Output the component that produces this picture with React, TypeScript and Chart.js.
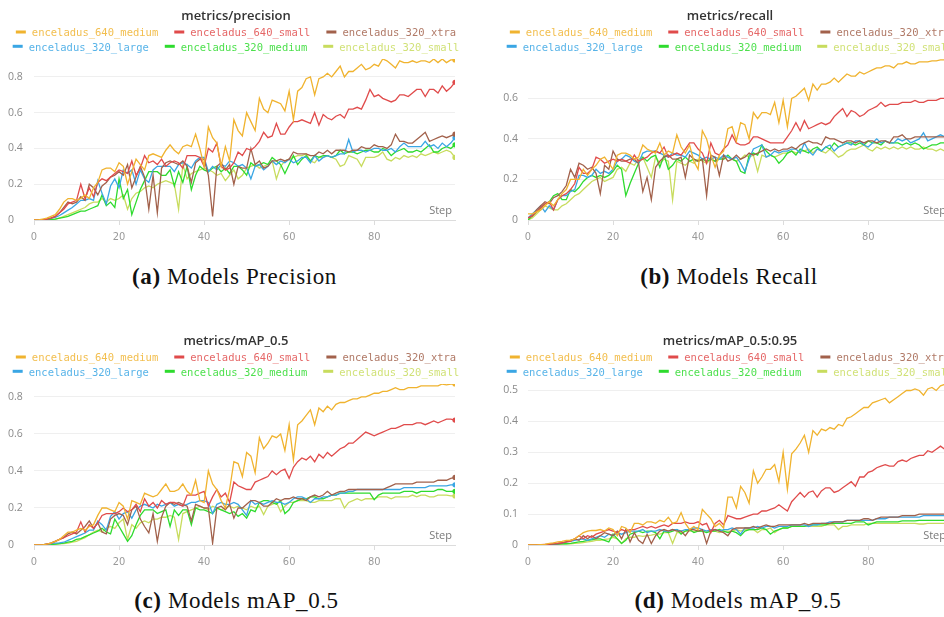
import React, { useEffect, useRef } from "react";
import { Chart, registerables } from "chart.js";

Chart.register(...registerables);

// Training step (epoch) index shared by every curve
const STEPS = [...Array(100).keys()];

const RUN_NAMES = [
  "enceladus_640_medium",
  "enceladus_640_small",
  "enceladus_320_xtra",
  "enceladus_320_large",
  "enceladus_320_medium",
  "enceladus_320_small",
];
const RUN_COLORS = ["#f0b32f", "#e04b4b", "#a2614b", "#3aa6e4", "#2edb2e", "#c8dc5e"];

// ---- metrics/precision ----
const precision640Medium = [0,0,0.005,0.01,0.02,0.03,0.06,0.1,0.12,0.12, 0.11,0.12,0.14,0.12,0.18,0.21,0.28,0.29,0.29,0.27, 0.32,0.3,0.2,0.27,0.34,0.31,0.28,0.36,0.37,0.36, 0.35,0.39,0.42,0.39,0.37,0.41,0.42,0.41,0.48,0.4, 0.3,0.52,0.46,0.43,0.3,0.41,0.33,0.56,0.5,0.47, 0.6,0.55,0.5,0.68,0.62,0.6,0.67,0.66,0.65,0.61, 0.72,0.56,0.72,0.74,0.79,0.8,0.7,0.79,0.8,0.82, 0.8,0.83,0.86,0.8,0.83,0.83,0.85,0.87,0.84,0.85, 0.87,0.86,0.9,0.89,0.87,0.85,0.89,0.88,0.88,0.89, 0.88,0.89,0.89,0.88,0.9,0.88,0.9,0.88,0.895,0.895];
const precision640Small = [0,0,0,0.005,0.01,0.02,0.04,0.06,0.09,0.1, 0.11,0.2,0.12,0.18,0.13,0.21,0.23,0.22,0.24,0.26, 0.28,0.27,0.26,0.33,0.25,0.29,0.36,0.32,0.33,0.31, 0.34,0.3,0.32,0.33,0.32,0.29,0.36,0.36,0.36,0.35, 0.3,0.4,0.38,0.43,0.3,0.28,0.29,0.32,0.38,0.36, 0.4,0.39,0.41,0.44,0.49,0.46,0.47,0.54,0.48,0.48, 0.52,0.55,0.55,0.56,0.55,0.54,0.6,0.53,0.59,0.57, 0.56,0.58,0.59,0.57,0.62,0.62,0.63,0.62,0.67,0.73, 0.69,0.7,0.68,0.67,0.66,0.67,0.7,0.7,0.69,0.71, 0.73,0.73,0.69,0.73,0.73,0.71,0.75,0.72,0.74,0.77];
const precision320Xtra = [0,0,0,0.005,0.01,0.02,0.04,0.07,0.1,0.09, 0.1,0.13,0.11,0.2,0.18,0.14,0.19,0.21,0.24,0.25, 0.27,0.25,0.31,0.18,0.24,0.3,0.24,0.06,0.25,0.04, 0.29,0.32,0.33,0.32,0.31,0.33,0.3,0.21,0.32,0.34, 0.34,0.25,0.02,0.3,0.32,0.28,0.31,0.2,0.3,0.29, 0.29,0.4,0.31,0.33,0.29,0.3,0.33,0.33,0.34,0.33, 0.34,0.38,0.37,0.37,0.37,0.36,0.36,0.38,0.37,0.39, 0.37,0.39,0.39,0.39,0.38,0.39,0.39,0.41,0.4,0.4, 0.42,0.41,0.41,0.4,0.42,0.48,0.44,0.44,0.43,0.43, 0.45,0.47,0.49,0.44,0.45,0.46,0.47,0.46,0.47,0.48];
const precision320Large = [0,0,0,0.005,0.01,0.015,0.025,0.04,0.055,0.07, 0.09,0.11,0.11,0.12,0.11,0.22,0.15,0.09,0.19,0.23, 0.18,0.28,0.26,0.28,0.2,0.28,0.23,0.21,0.28,0.3, 0.3,0.3,0.3,0.27,0.31,0.32,0.31,0.29,0.33,0.35, 0.35,0.27,0.3,0.28,0.31,0.3,0.33,0.32,0.3,0.31, 0.29,0.23,0.3,0.31,0.28,0.3,0.33,0.31,0.33,0.32, 0.34,0.32,0.33,0.35,0.35,0.32,0.36,0.33,0.35,0.36, 0.35,0.36,0.37,0.37,0.45,0.38,0.39,0.39,0.38,0.39, 0.4,0.4,0.39,0.39,0.4,0.38,0.41,0.43,0.41,0.41, 0.41,0.41,0.44,0.41,0.42,0.4,0.43,0.41,0.43,0.46];
const precision320Medium = [0,0,0,0,0.003,0.005,0.01,0.015,0.02,0.03, 0.04,0.05,0.05,0.06,0.07,0.08,0.14,0.08,0.1,0.07, 0.23,0.12,0.17,0.03,0.1,0.17,0.22,0.27,0.27,0.27, 0.25,0.25,0.28,0.19,0.27,0.21,0.3,0.17,0.25,0.3, 0.28,0.27,0.29,0.3,0.27,0.29,0.26,0.3,0.3,0.28, 0.25,0.32,0.3,0.31,0.32,0.31,0.35,0.33,0.31,0.26, 0.31,0.36,0.31,0.34,0.36,0.33,0.36,0.35,0.36,0.36, 0.35,0.36,0.39,0.37,0.38,0.38,0.37,0.38,0.39,0.39, 0.38,0.38,0.4,0.39,0.36,0.38,0.39,0.4,0.38,0.38, 0.39,0.38,0.4,0.42,0.38,0.38,0.4,0.41,0.4,0.42];
const precision320Small = [0,0,0,0,0.003,0.005,0.01,0.02,0.03,0.04, 0.05,0.06,0.07,0.09,0.1,0.1,0.12,0.1,0.12,0.11, 0.12,0.14,0.06,0.12,0.15,0.16,0.18,0.19,0.18,0.2, 0.21,0.22,0.21,0.2,0.06,0.31,0.23,0.26,0.27,0.28, 0.29,0.28,0.27,0.25,0.26,0.22,0.25,0.28,0.23,0.25, 0.29,0.3,0.31,0.29,0.3,0.31,0.33,0.23,0.3,0.33, 0.34,0.35,0.36,0.36,0.37,0.33,0.32,0.35,0.35,0.36, 0.35,0.34,0.3,0.31,0.36,0.35,0.34,0.3,0.35,0.35, 0.35,0.36,0.38,0.34,0.33,0.35,0.34,0.36,0.35,0.36, 0.35,0.37,0.36,0.37,0.38,0.37,0.38,0.39,0.38,0.35];

// ---- metrics/recall ----
const recall640Medium = [0.03,0.03,0.04,0.05,0.07,0.09,0.07,0.1,0.13,0.15, 0.2,0.2,0.2,0.25,0.22,0.25,0.27,0.3,0.31,0.28, 0.25,0.32,0.33,0.33,0.32,0.3,0.31,0.37,0.35,0.34, 0.33,0.38,0.32,0.34,0.33,0.42,0.36,0.33,0.37,0.29, 0.25,0.44,0.4,0.32,0.26,0.32,0.34,0.45,0.46,0.39, 0.48,0.47,0.4,0.53,0.5,0.53,0.53,0.52,0.58,0.48, 0.59,0.46,0.6,0.61,0.63,0.65,0.59,0.67,0.64,0.67, 0.67,0.68,0.7,0.68,0.7,0.72,0.71,0.71,0.73,0.72, 0.73,0.74,0.75,0.75,0.76,0.76,0.75,0.77,0.77,0.78, 0.77,0.77,0.78,0.78,0.78,0.785,0.785,0.79,0.79,0.79];
const recall640Small = [0.01,0.02,0.04,0.06,0.08,0.09,0.05,0.1,0.12,0.13, 0.15,0.18,0.26,0.23,0.23,0.25,0.31,0.3,0.28,0.29, 0.3,0.29,0.3,0.29,0.28,0.32,0.29,0.3,0.31,0.33, 0.34,0.33,0.36,0.31,0.32,0.33,0.32,0.35,0.38,0.38, 0.35,0.33,0.28,0.38,0.33,0.32,0.35,0.37,0.42,0.38, 0.37,0.37,0.38,0.41,0.41,0.4,0.39,0.38,0.38,0.38, 0.38,0.41,0.44,0.48,0.44,0.49,0.45,0.46,0.47,0.48, 0.47,0.48,0.51,0.53,0.55,0.51,0.54,0.53,0.51,0.52, 0.54,0.55,0.56,0.58,0.56,0.57,0.57,0.57,0.58,0.58, 0.58,0.59,0.58,0.58,0.59,0.59,0.59,0.6,0.6,0.6];
const recall320Xtra = [0.01,0.02,0.05,0.07,0.09,0.08,0.11,0.12,0.14,0.17, 0.25,0.21,0.28,0.27,0.25,0.26,0.23,0.13,0.27,0.25, 0.34,0.3,0.29,0.29,0.3,0.3,0.28,0.14,0.21,0.1, 0.26,0.29,0.31,0.32,0.3,0.3,0.31,0.21,0.32,0.3, 0.29,0.3,0.12,0.32,0.31,0.22,0.32,0.29,0.3,0.32, 0.3,0.31,0.33,0.32,0.33,0.34,0.35,0.34,0.35,0.34, 0.35,0.35,0.36,0.35,0.37,0.38,0.39,0.38,0.38,0.37, 0.41,0.4,0.4,0.39,0.38,0.39,0.39,0.38,0.39,0.38, 0.39,0.39,0.38,0.39,0.39,0.38,0.41,0.41,0.42,0.4, 0.4,0.41,0.41,0.41,0.41,0.41,0.41,0.41,0.41,0.41];
const recall320Large = [0.01,0.03,0.05,0.07,0.04,0.07,0.05,0.1,0.12,0.12, 0.14,0.15,0.22,0.22,0.21,0.22,0.25,0.23,0.24,0.23, 0.25,0.29,0.3,0.32,0.31,0.29,0.28,0.33,0.34,0.34, 0.34,0.33,0.32,0.31,0.33,0.32,0.32,0.31,0.34,0.33, 0.32,0.3,0.31,0.3,0.31,0.3,0.32,0.31,0.3,0.31, 0.28,0.24,0.3,0.35,0.36,0.37,0.31,0.32,0.34,0.33, 0.34,0.34,0.35,0.35,0.33,0.38,0.34,0.32,0.35,0.34, 0.36,0.37,0.34,0.36,0.37,0.38,0.37,0.39,0.39,0.37, 0.36,0.38,0.4,0.38,0.39,0.38,0.38,0.4,0.39,0.4, 0.38,0.39,0.4,0.43,0.39,0.4,0.41,0.42,0.41,0.42];
const recall320Medium = [0,0.02,0.04,0.06,0.08,0.09,0.12,0.13,0.1,0.1, 0.15,0.14,0.16,0.19,0.21,0.22,0.21,0.22,0.21,0.22, 0.24,0.27,0.25,0.12,0.18,0.23,0.28,0.31,0.29,0.31, 0.32,0.26,0.32,0.25,0.27,0.3,0.29,0.31,0.29,0.3, 0.29,0.3,0.29,0.3,0.29,0.3,0.3,0.32,0.3,0.29, 0.24,0.23,0.32,0.33,0.32,0.37,0.34,0.32,0.31,0.28, 0.3,0.33,0.34,0.32,0.35,0.34,0.33,0.35,0.36,0.34, 0.36,0.35,0.38,0.36,0.37,0.38,0.38,0.37,0.38,0.37, 0.39,0.38,0.38,0.37,0.39,0.38,0.38,0.38,0.37,0.38, 0.37,0.38,0.37,0.35,0.36,0.37,0.37,0.38,0.38,0.38];
const recall320Small = [0,0.01,0.03,0.05,0.07,0.06,0.05,0.05,0.07,0.08, 0.1,0.12,0.13,0.15,0.17,0.19,0.2,0.21,0.19,0.2, 0.21,0.25,0.26,0.24,0.28,0.27,0.3,0.31,0.26,0.21, 0.31,0.28,0.3,0.29,0.1,0.29,0.28,0.27,0.29,0.28, 0.3,0.29,0.28,0.3,0.29,0.31,0.3,0.31,0.3,0.29, 0.3,0.32,0.31,0.32,0.24,0.32,0.31,0.32,0.31,0.32, 0.33,0.33,0.34,0.33,0.34,0.34,0.35,0.33,0.35,0.34, 0.33,0.35,0.33,0.31,0.32,0.34,0.35,0.35,0.36,0.37, 0.35,0.34,0.36,0.35,0.36,0.35,0.36,0.35,0.36,0.35, 0.36,0.35,0.35,0.36,0.35,0.35,0.34,0.35,0.34,0.34];

// ---- metrics/mAP_0.5 ----
const map50_640Medium = [0,0,0,0.005,0.01,0.02,0.03,0.05,0.07,0.07, 0.08,0.09,0.08,0.1,0.11,0.16,0.2,0.2,0.19,0.18, 0.23,0.21,0.14,0.24,0.23,0.22,0.28,0.27,0.26,0.27, 0.3,0.33,0.29,0.29,0.3,0.33,0.29,0.27,0.35,0.24, 0.23,0.4,0.33,0.3,0.24,0.2,0.3,0.45,0.44,0.37, 0.5,0.48,0.39,0.58,0.52,0.55,0.59,0.58,0.6,0.51, 0.65,0.46,0.65,0.67,0.7,0.73,0.65,0.74,0.72,0.75, 0.73,0.76,0.77,0.77,0.78,0.79,0.79,0.8,0.8,0.81, 0.82,0.82,0.83,0.83,0.84,0.85,0.84,0.84,0.85,0.85, 0.85,0.86,0.86,0.86,0.86,0.86,0.87,0.865,0.87,0.87];
const map50_640Small = [0,0,0,0.005,0.01,0.02,0.03,0.04,0.05,0.06, 0.07,0.125,0.07,0.11,0.09,0.12,0.16,0.17,0.17,0.17, 0.18,0.2,0.18,0.19,0.22,0.18,0.25,0.21,0.23,0.2, 0.24,0.22,0.23,0.23,0.22,0.21,0.27,0.27,0.27,0.28, 0.29,0.21,0.26,0.3,0.26,0.28,0.23,0.34,0.32,0.31, 0.3,0.3,0.34,0.35,0.36,0.37,0.4,0.38,0.4,0.41, 0.36,0.42,0.45,0.47,0.46,0.48,0.45,0.49,0.47,0.5, 0.48,0.5,0.52,0.53,0.55,0.55,0.57,0.59,0.61,0.6, 0.59,0.6,0.61,0.62,0.63,0.63,0.64,0.65,0.65,0.65, 0.66,0.66,0.65,0.66,0.67,0.66,0.67,0.68,0.68,0.675];
const map50_320Xtra = [0,0,0,0.005,0.01,0.02,0.03,0.04,0.06,0.07, 0.06,0.08,0.1,0.13,0.09,0.12,0.07,0.06,0.14,0.16, 0.17,0.16,0.11,0.19,0.21,0.14,0.1,0.065,0.17,0.02, 0.15,0.21,0.23,0.22,0.23,0.22,0.21,0.13,0.22,0.21, 0.2,0.2,0.01,0.2,0.21,0.19,0.22,0.145,0.2,0.2, 0.22,0.24,0.24,0.23,0.21,0.21,0.23,0.25,0.24,0.25, 0.25,0.26,0.25,0.25,0.24,0.26,0.27,0.26,0.27,0.29, 0.27,0.28,0.29,0.29,0.3,0.3,0.3,0.3,0.3,0.3, 0.3,0.3,0.3,0.31,0.32,0.33,0.33,0.33,0.33,0.33, 0.34,0.34,0.34,0.34,0.34,0.35,0.35,0.35,0.36,0.365];
const map50_320Large = [0,0,0,0.005,0.008,0.01,0.012,0.015,0.025,0.035, 0.045,0.055,0.065,0.08,0.08,0.13,0.11,0.08,0.155,0.18, 0.14,0.17,0.18,0.145,0.19,0.21,0.22,0.21,0.2,0.22, 0.21,0.22,0.23,0.21,0.22,0.21,0.22,0.23,0.23,0.24, 0.24,0.23,0.17,0.22,0.23,0.22,0.22,0.23,0.22,0.19, 0.16,0.24,0.22,0.23,0.22,0.23,0.24,0.23,0.23,0.22, 0.23,0.25,0.26,0.26,0.25,0.23,0.25,0.25,0.26,0.26, 0.27,0.27,0.28,0.28,0.29,0.29,0.3,0.3,0.3,0.3, 0.3,0.3,0.3,0.3,0.3,0.3,0.3,0.31,0.31,0.31, 0.31,0.31,0.31,0.32,0.32,0.32,0.32,0.32,0.325,0.325];
const map50_320Medium = [0,0,0,0,0.002,0.005,0.008,0.01,0.015,0.02, 0.03,0.035,0.045,0.055,0.065,0.075,0.09,0.07,0.06,0.14, 0.1,0.06,0.02,0.05,0.11,0.16,0.19,0.19,0.19,0.17, 0.18,0.19,0.1,0.19,0.16,0.19,0.19,0.11,0.2,0.19, 0.19,0.18,0.17,0.2,0.19,0.18,0.17,0.18,0.155,0.17, 0.145,0.19,0.18,0.23,0.24,0.24,0.23,0.22,0.24,0.17, 0.19,0.23,0.24,0.25,0.25,0.26,0.26,0.25,0.25,0.26, 0.27,0.27,0.28,0.28,0.28,0.28,0.28,0.28,0.28,0.28, 0.245,0.27,0.28,0.28,0.28,0.28,0.28,0.29,0.29,0.29, 0.28,0.29,0.29,0.29,0.29,0.3,0.3,0.29,0.29,0.29];
const map50_320Small = [0,0,0,0,0.002,0.004,0.006,0.008,0.01,0.015, 0.02,0.03,0.04,0.055,0.07,0.08,0.07,0.09,0.1,0.09, 0.12,0.14,0.03,0.11,0.09,0.12,0.13,0.12,0.14,0.14, 0.15,0.15,0.16,0.15,0.03,0.17,0.18,0.19,0.2,0.21, 0.2,0.19,0.21,0.2,0.19,0.2,0.21,0.2,0.21,0.2, 0.19,0.21,0.2,0.21,0.165,0.21,0.22,0.23,0.18,0.21, 0.23,0.23,0.24,0.24,0.24,0.23,0.23,0.24,0.24,0.24, 0.24,0.25,0.25,0.2,0.23,0.24,0.25,0.24,0.25,0.25, 0.25,0.26,0.26,0.26,0.25,0.26,0.26,0.26,0.26,0.27, 0.26,0.27,0.27,0.26,0.26,0.27,0.27,0.27,0.265,0.265];

// ---- metrics/mAP_0.5:0.95 ----
const map95_640Medium = [0,0,0,0.001,0.002,0.005,0.007,0.01,0.012,0.015, 0.015,0.02,0.03,0.04,0.045,0.047,0.047,0.05,0.045,0.055, 0.05,0.03,0.06,0.055,0.04,0.07,0.07,0.065,0.075,0.075, 0.07,0.08,0.075,0.09,0.07,0.075,0.105,0.07,0.05,0.06, 0.05,0.115,0.1,0.085,0.06,0.07,0.055,0.155,0.155,0.12, 0.19,0.17,0.135,0.24,0.2,0.22,0.245,0.245,0.26,0.205, 0.3,0.18,0.295,0.31,0.33,0.355,0.3,0.37,0.355,0.375, 0.37,0.38,0.375,0.39,0.385,0.41,0.415,0.425,0.435,0.445, 0.445,0.46,0.465,0.47,0.475,0.46,0.47,0.48,0.49,0.5, 0.5,0.505,0.5,0.485,0.505,0.51,0.5,0.515,0.52,0.52];
const map95_640Small = [0,0,0,0.001,0.002,0.003,0.005,0.006,0.008,0.01, 0.012,0.02,0.03,0.02,0.03,0.025,0.035,0.04,0.045,0.05, 0.045,0.04,0.05,0.045,0.05,0.05,0.055,0.06,0.055,0.06, 0.055,0.06,0.065,0.06,0.07,0.07,0.07,0.075,0.07,0.07, 0.075,0.065,0.07,0.04,0.07,0.08,0.065,0.095,0.09,0.085, 0.085,0.09,0.095,0.1,0.1,0.11,0.11,0.115,0.12,0.13, 0.12,0.11,0.14,0.155,0.17,0.155,0.17,0.175,0.155,0.175, 0.185,0.185,0.17,0.175,0.185,0.195,0.205,0.19,0.22,0.22, 0.235,0.24,0.25,0.255,0.26,0.255,0.255,0.27,0.275,0.27, 0.28,0.285,0.29,0.29,0.305,0.3,0.31,0.32,0.31,0.315];
const map95_320Xtra = [0,0,0,0,0.001,0.002,0.003,0.004,0.006,0.01, 0.015,0.02,0.015,0.03,0.02,0.03,0.02,0.03,0.04,0.035, 0.03,0.045,0.02,0.05,0.01,0.04,0.015,0.005,0.035,0.005, 0.03,0.045,0.05,0.045,0.05,0.045,0.045,0.03,0.05,0.05, 0.045,0.05,0.005,0.045,0.05,0.045,0.04,0.03,0.05,0.055, 0.055,0.055,0.055,0.06,0.055,0.06,0.065,0.06,0.06,0.065, 0.065,0.065,0.065,0.065,0.065,0.07,0.065,0.07,0.07,0.07, 0.07,0.07,0.075,0.075,0.075,0.08,0.08,0.08,0.08,0.085, 0.085,0.08,0.085,0.09,0.09,0.09,0.09,0.09,0.095,0.095, 0.095,0.095,0.1,0.1,0.1,0.1,0.1,0.1,0.1,0.1];
const map95_320Large = [0,0,0,0,0.001,0.002,0.003,0.004,0.006,0.01, 0.012,0.015,0.018,0.02,0.015,0.02,0.025,0.03,0.025,0.035, 0.03,0.04,0.035,0.04,0.045,0.045,0.045,0.05,0.04,0.045, 0.045,0.05,0.045,0.045,0.05,0.05,0.045,0.05,0.05,0.055, 0.055,0.05,0.045,0.05,0.05,0.045,0.05,0.05,0.055,0.05, 0.035,0.055,0.055,0.055,0.06,0.055,0.06,0.06,0.055,0.06, 0.06,0.06,0.065,0.065,0.065,0.065,0.06,0.065,0.065,0.07, 0.07,0.075,0.075,0.075,0.075,0.08,0.08,0.08,0.08,0.08, 0.08,0.08,0.085,0.085,0.085,0.09,0.09,0.09,0.09,0.09, 0.09,0.09,0.09,0.095,0.095,0.095,0.095,0.095,0.095,0.095];
const map95_320Medium = [0,0,0,0,0,0.001,0.002,0.003,0.004,0.004, 0.005,0.008,0.01,0.012,0.015,0.017,0.02,0.02,0.015,0.01, 0.035,0.02,0.005,0.015,0.035,0.04,0.045,0.04,0.045,0.045, 0.04,0.02,0.045,0.04,0.045,0.05,0.035,0.045,0.05,0.04, 0.045,0.045,0.04,0.045,0.045,0.05,0.045,0.04,0.045,0.04, 0.03,0.045,0.05,0.05,0.05,0.055,0.05,0.035,0.045,0.05, 0.055,0.055,0.06,0.06,0.06,0.06,0.065,0.065,0.065,0.065, 0.065,0.07,0.07,0.07,0.07,0.07,0.07,0.075,0.075,0.075, 0.065,0.07,0.075,0.075,0.075,0.075,0.075,0.075,0.078,0.078, 0.078,0.078,0.08,0.08,0.08,0.08,0.08,0.08,0.08,0.08];
const map95_320Small = [0,0,0,0,0,0.001,0.002,0.002,0.003,0.004, 0.004,0.005,0.006,0.008,0.01,0.012,0.015,0.015,0.018,0.02, 0.025,0.02,0.005,0.02,0.025,0.025,0.03,0.028,0.03,0.032, 0.035,0.035,0.04,0.04,0.005,0.04,0.04,0.045,0.045,0.045, 0.045,0.045,0.045,0.045,0.045,0.04,0.045,0.045,0.045,0.05, 0.045,0.05,0.05,0.05,0.04,0.05,0.05,0.055,0.04,0.05, 0.055,0.055,0.06,0.06,0.06,0.06,0.06,0.06,0.06,0.06, 0.065,0.065,0.065,0.05,0.06,0.06,0.065,0.065,0.065,0.065, 0.07,0.07,0.07,0.07,0.07,0.07,0.07,0.07,0.07,0.07, 0.07,0.07,0.068,0.068,0.07,0.07,0.07,0.07,0.07,0.07];

// Legend geometry (px)
const KEY_MARK = 10;
const KEY_GAP = 6;
const KEY_ITEM_GAP = 16;

// Title, two-row run key and the in-plot "Step" label
const panelDecor = {
  id: "panelDecor",
  afterDraw(chart: any, _args: unknown, opts: any) {
    const { ctx, chartArea } = chart;
    const cx = opts.centerX;
    ctx.save();
    ctx.textBaseline = "middle";
    ctx.textAlign = "center";
    ctx.font = '600 13px "Open Sans"';
    ctx.fillStyle = "#333333";
    ctx.fillText(opts.title, cx, 16);

    ctx.font = '10.5px "DejaVu Sans Mono"';
    ctx.textAlign = "left";
    const sets = chart.data.datasets;
    const rows = [sets.slice(0, 3), sets.slice(3, 6)];
    rows.forEach((row: any[], r: number) => {
      const y = 33.5 + r * 14.3;
      const widths = row.map((ds) => ctx.measureText(ds.label).width);
      const total =
        widths.reduce((a: number, w: number) => a + KEY_MARK + KEY_GAP + w, 0) +
        KEY_ITEM_GAP * (row.length - 1);
      let x = cx - total / 2;
      row.forEach((ds, i) => {
        ctx.fillStyle = ds.borderColor;
        ctx.fillRect(x, y - 3, KEY_MARK, 3);
        ctx.globalAlpha = 0.85;
        ctx.fillText(ds.label, x + KEY_MARK + KEY_GAP, y);
        ctx.globalAlpha = 1;
        x += KEY_MARK + KEY_GAP + widths[i] + KEY_ITEM_GAP;
      });
    });

    ctx.font = '11px "Open Sans"';
    ctx.fillStyle = "#7a7a7a";
    ctx.textAlign = "right";
    ctx.textBaseline = "alphabetic";
    ctx.fillText("Step", chartArea.right - 3, chartArea.bottom - 6);
    ctx.restore();
  },
};

type PanelProps = {
  left: number;
  top: number;
  title: string;
  series: number[][];
  yMax: number;
  yStep: number;
  labelsFar: boolean;
};

function MetricPanel({ left, top, title, series, yMax, yStep, labelsFar }: PanelProps) {
  const ref = useRef<HTMLCanvasElement>(null);

  useEffect(() => {
    const last = STEPS.length - 1;
    const chart = new Chart(ref.current as HTMLCanvasElement, {
      type: "line",
      data: {
        labels: STEPS,
        datasets: series.map((values, i) => ({
          label: RUN_NAMES[i],
          data: values,
          borderColor: RUN_COLORS[i],
          backgroundColor: RUN_COLORS[i],
          borderWidth: 1.3,
          tension: 0,
          fill: false,
          pointRadius: (c: any) => (c.dataIndex === last ? 2.6 : 0),
          pointHoverRadius: 0,
          pointBorderWidth: 0,
          pointBackgroundColor: RUN_COLORS[i],
        })),
      },
      options: {
        animation: false,
        responsive: false,
        events: [],
        layout: { padding: { top: 59, left: 8, right: 15, bottom: 0 } },
        plugins: {
          legend: { display: false },
          title: { display: false },
          tooltip: { enabled: false },
          panelDecor: { title, centerX: 236 },
        } as any,
        scales: {
          x: {
            type: "linear",
            min: 0,
            max: last,
            afterFit: (s: any) => {
              s.height = 30;
            },
            ticks: {
              stepSize: 20,
              includeBounds: false,
              maxRotation: 0,
              padding: 6,
              color: "#9a9a9a",
              font: { family: '"Liberation Sans Narrow", "DejaVu Sans Condensed", sans-serif', size: 11 },
            },
            grid: { drawOnChartArea: false, drawTicks: true, tickLength: 5, color: "#dcdcdc" },
            border: { display: true, color: "#dcdcdc" },
          },
          y: {
            min: 0,
            max: yMax,
            afterFit: (s: any) => {
              s.width = 26;
            },
            ticks: {
              stepSize: yStep,
              includeBounds: false,
              crossAlign: labelsFar ? "far" : "near",
              padding: 10,
              color: "#8a8a8a",
              font: { family: '"Open Sans", sans-serif', size: 10.5 },
            },
            grid: { color: "#efefef", drawTicks: false },
            border: { display: false },
          },
        },
      },
      plugins: [panelDecor],
    } as any);
    return () => chart.destroy();
  }, []);

  return (
    <div style={{ position: "absolute", left, top, width: 470, height: 250 }}>
      <canvas ref={ref} width={470} height={250} style={{ display: "block" }} />
    </div>
  );
}

function Caption({ cx, top, tag, text }: { cx: number; top: number; tag: string; text: string }) {
  return (
    <div
      style={{
        position: "absolute",
        left: cx - 200,
        top,
        width: 400,
        textAlign: "center",
        fontFamily: '"Liberation Serif", serif',
        fontSize: 23,
        letterSpacing: 0.6,
        lineHeight: "24px",
        color: "#111",
        whiteSpace: "nowrap",
      }}
    >
      <b>{tag}</b> {text}
    </div>
  );
}

export default function App() {
  return (
    <div
      style={{
        position: "absolute",
        left: 0,
        top: 0,
        width: 944,
        height: 617,
        overflow: "hidden",
        background: "#ffffff",
      }}
    >
      <MetricPanel
        left={0}
        top={0}
        title="metrics/precision"
        series={[precision640Medium, precision640Small, precision320Xtra, precision320Large, precision320Medium, precision320Small]}
        yMax={0.9}
        yStep={0.2}
        labelsFar={true}
      />
      <MetricPanel
        left={494}
        top={0}
        title="metrics/recall"
        series={[recall640Medium, recall640Small, recall320Xtra, recall320Large, recall320Medium, recall320Small]}
        yMax={0.794}
        yStep={0.2}
        labelsFar={false}
      />
      <MetricPanel
        left={0}
        top={325}
        title="metrics/mAP_0.5"
        series={[map50_640Medium, map50_640Small, map50_320Xtra, map50_320Large, map50_320Medium, map50_320Small]}
        yMax={0.87}
        yStep={0.2}
        labelsFar={true}
      />
      <MetricPanel
        left={494}
        top={325}
        title="metrics/mAP_0.5:0.95"
        series={[map95_640Medium, map95_640Small, map95_320Xtra, map95_320Large, map95_320Medium, map95_320Small]}
        yMax={0.521}
        yStep={0.1}
        labelsFar={false}
      />
      <Caption cx={234.5} top={265} tag="(a)" text="Models Precision" />
      <Caption cx={729} top={265} tag="(b)" text="Models Recall" />
      <Caption cx={236.5} top={589} tag="(c)" text="Models mAP_0.5" />
      <Caption cx={738} top={589} tag="(d)" text="Models mAP_9.5" />
    </div>
  );
}
